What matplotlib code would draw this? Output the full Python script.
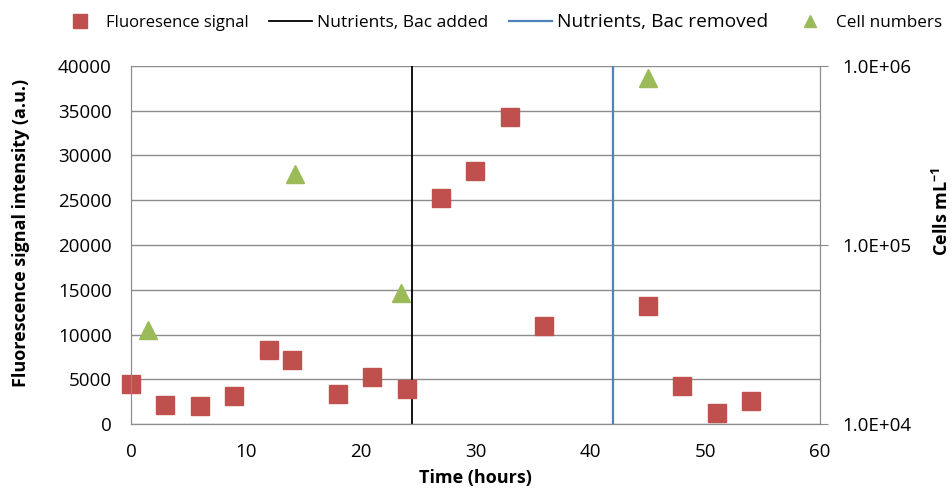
import matplotlib.pyplot as plt
from matplotlib.lines import Line2D

plt.rcParams['font.family'] = ['Open Sans', 'DejaVu Sans']
plt.rcParams['mathtext.fontset'] = 'custom'
plt.rcParams['mathtext.bf'] = 'Open Sans:bold'

# fluorescence signal (left axis)
fl_time = [0, 3, 6, 9, 12, 14, 18, 21, 24, 27, 30, 33, 36, 45, 48, 51, 54]
fl_signal = [4500, 2100, 2000, 3100, 8300, 7100, 3300, 5200, 3900,
             25300, 28300, 34300, 11000, 13200, 4300, 1200, 2600]

# cell numbers (right axis, log)
cell_time = [1.5, 14.3, 23.5, 45]
cell_counts = [33500, 249000, 54000, 857000]

bac_added = 24.5
bac_removed = 42

grey = '#8c8c8c'

fig = plt.figure(figsize=(9.52, 4.88), dpi=100)
ax = fig.add_axes([0.1376, 0.1311, 0.7237, 0.7337])

ax.plot(fl_time, fl_signal, 's', color='#C0504D', markersize=13, zorder=3, clip_on=False)
ax.axvline(bac_added, color='black', lw=1.3, zorder=2)
ax.axvline(bac_removed, color='#4F81BD', lw=1.6, zorder=2)

ax.set_xlim(0, 60)
ax.set_ylim(0, 40000)
ax.set_xticks(range(0, 61, 10))
ax.set_yticks(range(0, 40001, 5000))
ax.yaxis.grid(True, color=grey, lw=1)
ax.set_axisbelow(True)
ax.tick_params(axis='both', length=0, labelsize=13.5, pad=14)
for s in ['left', 'bottom', 'right']:
    ax.spines[s].set_color(grey)
ax.spines['top'].set_visible(False)
ax.set_xlabel('Time (hours)', fontsize=13, fontweight='bold')
ax.xaxis.set_label_coords(0.5, -0.125)
ax.set_ylabel('Fluorescence signal intensity (a.u.)', fontsize=13, fontweight='bold')
ax.yaxis.set_label_coords(-0.147, 0.534)

ax2 = ax.twinx()
ax2.plot(cell_time, cell_counts, '^', color='#9BBB59', markersize=13, zorder=3, clip_on=False)
ax2.set_yscale('log')
ax2.set_ylim(1e4, 1e6)
ax2.set_yticks([1e4, 1e5, 1e6])
ax2.set_yticklabels(['1.0E+04', '1.0E+05', '1.0E+06'])
ax2.minorticks_off()
ax2.tick_params(axis='y', length=6, color=grey, labelsize=13.5, pad=10)
for s in ['left', 'bottom', 'right']:
    ax2.spines[s].set_color(grey)
ax2.spines['top'].set_visible(False)
ax2.set_ylabel('Cells mL$^{\\mathbf{-1}}$', fontsize=13, fontweight='bold', rotation=90)
ax2.yaxis.set_label_coords(1.163, 0.595)

handles = [
    Line2D([], [], ls='', marker='s', color='#C0504D', markersize=10),
    Line2D([], [], color='black', lw=1.3),
    Line2D([], [], color='#4F81BD', lw=1.6),
    Line2D([], [], ls='', marker='^', color='#9BBB59', markersize=9),
]
labels = ['Fluoresence signal', 'Nutrients, Bac added', 'Nutrients, Bac removed', 'Cell numbers']
leg = fig.legend(handles, labels, loc='upper left', bbox_to_anchor=(0.045, 1.005), ncol=4,
                 frameon=False, fontsize=12, handlelength=2.6, columnspacing=1.2, handletextpad=0.3)
sizes = [12, 12.5, 13.8, 12.3]
for t, s in zip(leg.get_texts(), sizes):
    t.set_fontsize(s)

fig.savefig('out.png', dpi=100)
